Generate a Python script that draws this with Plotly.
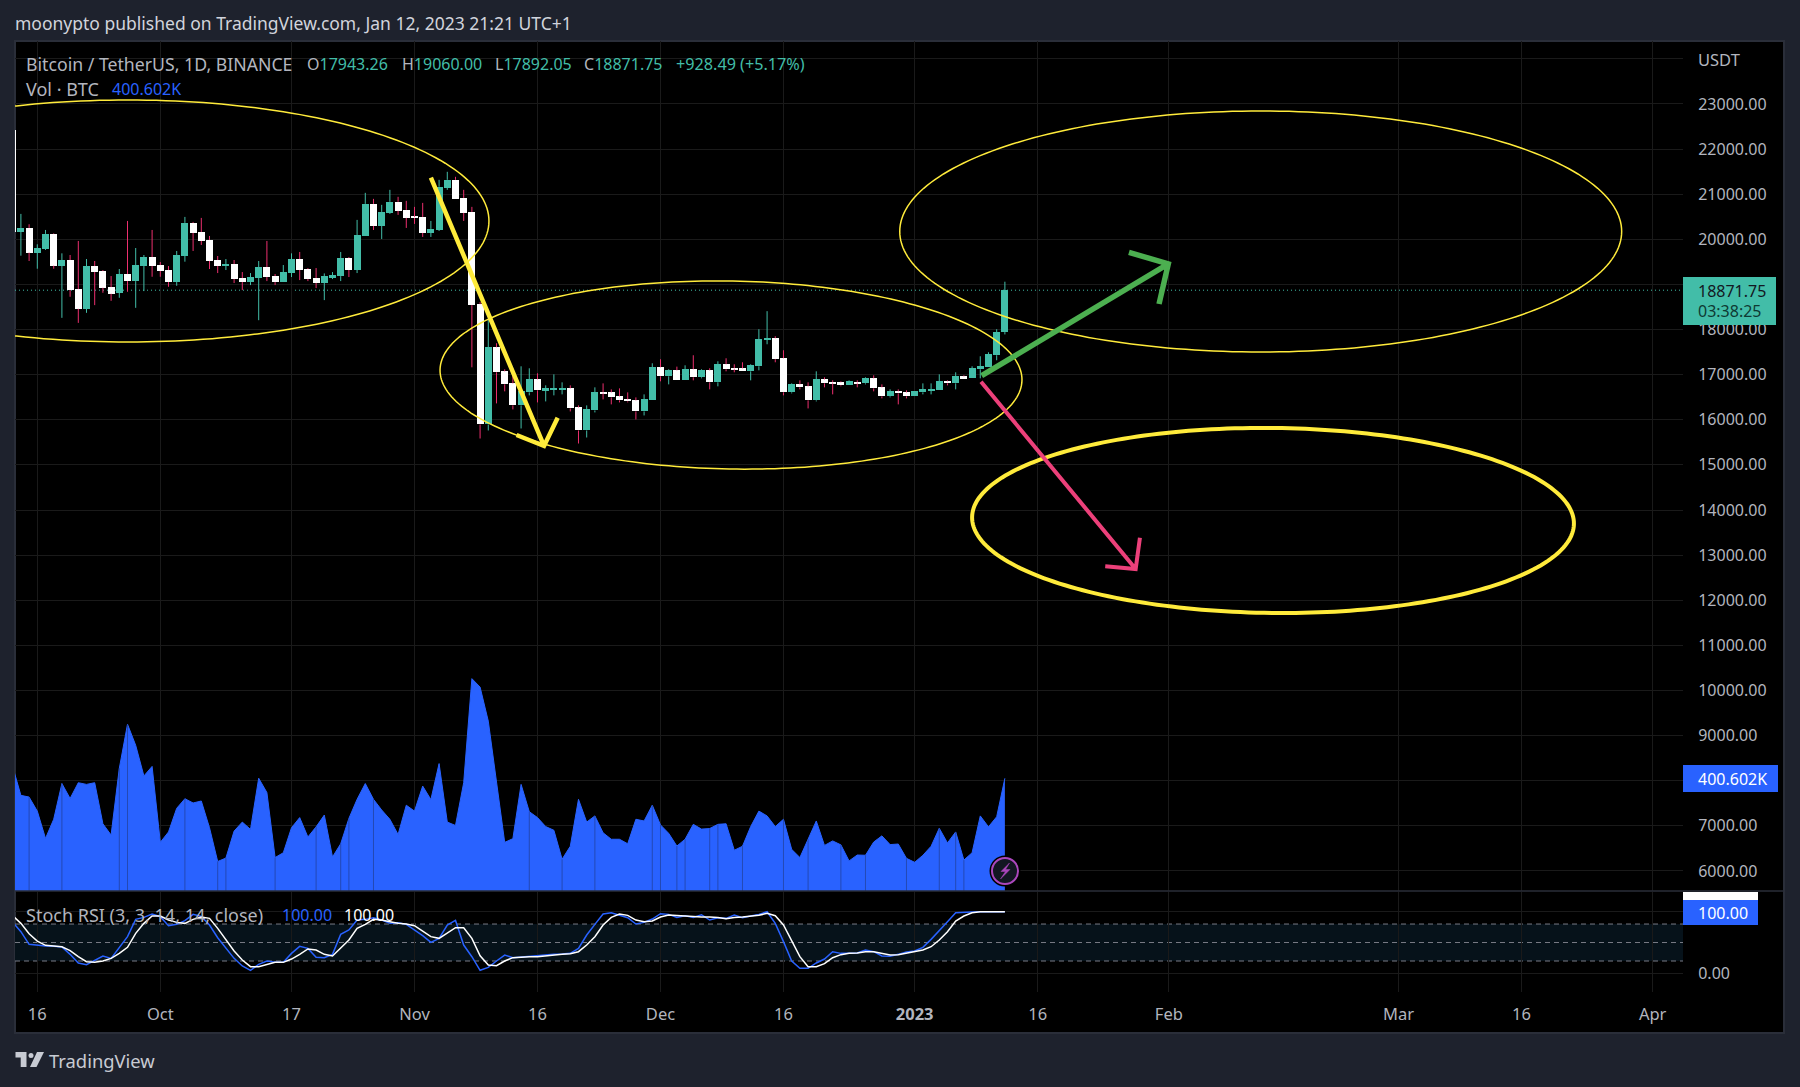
import math
from datetime import datetime, timedelta
import pandas as pd
import plotly.graph_objects as go

# ---------- data ----------
first_date = "2022-09-13"
opens = [22415,20170,20252,19704,19785,20119,19415,19541,18896,18459,19407,19296,18941,18815,19230,19074,19407,19607,19430,19319,19052,19630,20363,20163,19985,19541,19407,19452,19141,19052,19141,19385,19185,19052,19252,19563,19341,19141,19030,19163,19185,19585,19319,20074,20785,20296,20585,20830,20652,20496,20496,20141,20207,21141,21318,20918,20607,18563,15896,17607,17074,16807,16319,16607,16896,16652,16681,16681,16696,16274,15763,16207,16607,16607,16519,16452,16430,16185,16430,17163,16963,17096,16874,17119,16941,17096,16830,17230,17141,17141,17074,17185,17785,17807,17363,16607,16785,16741,16430,16896,16830,16830,16763,16830,16807,16919,16719,16519,16630,16607,16519,16607,16652,16652,16852,16807,16963,16919,17119,17163,17430,17943.26]
highs = [22420,20563,20333,19889,20207,20133,19689,19652,19963,19563,19519,19319,19185,19341,20407,19807,19652,20207,19496,19407,19741,20496,20385,20474,20074,19630,19563,19541,19274,19252,19519,19963,19230,19430,19689,19719,19363,19363,19244,19274,19719,19607,20430,21030,20896,20763,21096,20941,20852,20719,20807,20407,21318,21496,21385,21096,20719,18607,18222,17696,17119,16985,17185,17141,17030,16763,17007,16830,16763,16319,16319,16719,16807,16674,16696,16607,16496,16563,17252,17341,17119,17178,17207,17430,17119,17141,17296,17363,17230,17274,17230,18007,18407,17852,17541,16807,16874,16830,17074,16941,16874,16852,16874,16874,16941,16985,16785,16674,16674,16652,16630,16807,16807,17007,16874,17052,16985,17185,17407,17496,18007,19060.00]
lows = [20170,19637,19519,19348,19763,19348,18259,18726,18148,18370,18541,18815,18637,18704,18837,18481,18852,19170,19170,18948,18970,19504,19741,19874,19341,19252,19319,19030,18874,18985,18207,19074,18985,19052,19163,19096,19074,18919,18652,19119,19074,19163,19252,20074,20207,20007,20563,20541,20252,20341,20052,20052,20185,21096,20896,20407,17163,15585,15763,16363,16630,16230,15807,16541,16385,16407,16541,16563,16185,15474,15607,16163,16452,16341,16385,16385,16007,16096,16430,16852,16785,16874,16874,16874,16919,16674,16741,17074,17052,17074,16874,17096,17674,17274,16541,16585,16674,16252,16407,16719,16563,16741,16763,16719,16785,16630,16474,16496,16341,16474,16519,16563,16563,16652,16763,16674,16919,16919,16919,17163,17319,17892.05]
closes = [20170,20252,19704,19807,20119,19415,19541,18874,18459,19407,19274,18926,18793,19230,19074,19430,19607,19407,19296,19052,19652,20363,20141,19963,19519,19407,19452,19119,19052,19163,19385,19163,19052,19274,19563,19319,19119,19030,19185,19207,19585,19319,20096,20785,20296,20607,20830,20630,20474,20474,20141,20230,21163,21318,20896,20585,18541,15896,17607,17052,16785,16319,16630,16896,16652,16696,16696,16696,16252,15763,16230,16607,16585,16496,16430,16407,16185,16452,17163,16963,17096,16874,17119,16941,17096,16830,17230,17119,17119,17074,17207,17785,17807,17341,16607,16785,16719,16430,16896,16807,16807,16763,16852,16807,16919,16696,16519,16630,16585,16519,16630,16674,16674,16852,16807,16963,16919,17141,17185,17452,17941,18871.75]

volume_k = [442,340,334,284,187,255,382,329,385,379,385,239,199,436,593,518,409,443,173,210,294,328,313,320,225,105,117,213,245,219,401,350,119,136,225,261,192,228,270,121,168,258,326,382,326,288,255,201,305,284,373,325,453,245,233,385,755,725,604,391,173,186,379,282,261,229,216,113,159,326,245,267,207,184,184,168,255,249,305,235,205,160,184,237,220,222,237,239,145,159,229,284,267,229,255,148,119,184,249,162,178,164,107,128,127,174,196,165,167,116,102,127,159,223,171,210,110,136,267,228,264,400.602]
volume_marker_days = ["2022-09-15","2022-09-19","2022-09-26","2022-09-27","2022-10-04","2022-10-08","2022-10-09","2022-10-15","2022-10-20","2022-10-23","2022-10-24","2022-10-27","2022-11-15","2022-11-19","2022-11-23","2022-11-30","2022-12-01","2022-12-03","2022-12-04","2022-12-07","2022-12-08","2022-12-11","2022-12-16","2022-12-19","2022-12-23","2022-12-26","2022-12-31","2023-01-04","2023-01-06","2023-01-07"]

stoch_k = [82.7,67.6,47.0,45.4,44.3,43.8,42.7,30.8,16.8,14.1,21.1,28.1,24.3,42.2,59.5,87.6,90.8,96.2,91.9,77.3,79.5,85.4,95.7,92.4,78.4,57.8,40.5,24.3,11.9,4.9,14.6,20.0,17.8,17.8,32.4,43.8,40.5,25.9,25.4,30.8,63.2,70.3,86.5,87.6,90.3,86.5,81.1,82.2,79.5,70.3,61.1,50.3,56.8,78.4,85.9,45.9,27.0,4.9,9.7,20.0,29.7,25.4,26.5,27.6,29.7,30.3,30.8,31.4,32.4,40.5,62.2,79.5,96.2,98.4,94.6,90.3,80.0,82.7,88.1,96.8,95.7,90.8,93.5,90.8,95.1,86.5,90.3,89.2,94.6,90.3,93.0,95.7,100,81.1,51.4,20.0,8.1,8.1,16.8,23.2,35.1,32.4,32.4,33.0,37.8,35.1,28.1,27.6,30.8,34.6,36.2,42.2,55.1,70.3,83.8,98.4,98.4,99.5,100,100,100,100]
stoch_d = [93.5,81.1,64.3,52.4,45.4,44.3,43.2,36.8,27.0,18.9,17.8,20.0,24.3,32.4,42.2,64.9,81.1,93.0,93.0,86.5,82.7,81.1,87.6,91.4,89.2,73.0,54.1,36.2,21.6,10.8,10.8,14.1,17.8,17.8,23.2,30.8,39.5,37.8,30.8,28.1,40.5,54.1,73.0,79.5,87.6,86.5,83.8,81.1,80.0,77.3,68.6,59.5,56.8,64.9,74.1,74.1,56.8,28.6,13.5,12.4,20.0,25.4,26.5,27.0,27.0,28.6,29.7,30.8,31.9,35.1,45.9,59.5,78.4,90.8,96.2,94.1,86.5,83.8,84.9,91.4,94.6,93.5,93.0,91.9,91.4,91.4,90.8,88.6,90.8,91.4,93.0,94.1,97.3,93.5,78.4,51.4,27.0,10.8,10.8,15.7,25.4,30.3,32.4,33.0,35.1,35.1,32.4,29.7,30.3,32.4,35.1,37.8,43.2,54.1,67.6,84.9,93.0,98.4,100,100,100,100]

time_ticks = ["2022-09-16","2022-10-01","2022-10-17","2022-11-01","2022-11-16","2022-12-01","2022-12-16","2023-01-01","2023-01-16","2023-02-01","2023-03-01","2023-03-16","2023-04-01"]
time_labels = ["16","Oct","17","Nov","16","Dec","16","<b>2023</b>","16","Feb","Mar","16","Apr"]
price_ticks = list(range(6000, 24001, 1000))
# 8000 and 19000 sit fully behind the value tags in the reference, 24000 has the currency label instead
hidden_price_labels = {8000, 19000, 24000}
price_labels = ["" if v in hidden_price_labels else f"{v}.00" for v in price_ticks]
stoch_ticks = [0, 100]
stoch_labels = ["0.00", ""]

# ---------- styling ----------
W, H = 1800, 1087
FONT = "Noto Sans"
BG, PANEL_LINE, GRID = "#1E222D", "#2A2E39", "#1A1A1A"
TEAL, PINK, BLUE, TXT = "#42BDA8", "#EC2F6E", "#2962FF", "#B2B5BE"
YELLOW, GREEN, ROSE = "#FFEB3B", "#4CAF50", "#EC407A"

PLOT_L, PLOT_R, PANEL_R = 15, 1683, 1784
TOP, PANE_SPLIT, PANE_BOTTOM, PANEL_BOTTOM = 41, 891, 992, 1033
PX_PER_DAY = 8.2
PX_PER_PRICE = 0.04512
BASE = datetime(2022, 9, 16)
X_RANGE = [BASE + timedelta(days=-2.72), BASE + timedelta(days=200.7)]
PRICE_RANGE = [5556, 24395]
VOLUME_RANGE = [0, 3022]
STOCH_RANGE = [-30.3, 132]

def px(x): return x / W
def py(y): return 1 - y / H

dates = pd.date_range(first_date, periods=len(closes), freq="D")
up = [c >= o for o, c in zip(opens, closes)]
down = [not u for u in up]

def pick(values, flags):
    return [v for v, f in zip(values, flags) if f]

def wick_xy(flags):
    # two segments per candle, so the wick never shows through the body
    xs, ys = [], []
    for d, o, hi, lo, c, f in zip(dates, opens, highs, lows, closes, flags):
        if f:
            xs += [d, d, None, d, d, None]
            ys += [max(o, c), hi, None, lo, min(o, c), None]
    return xs, ys

fig = go.Figure()

# volume area and its darker marker lines
fig.add_trace(go.Scatter(x=dates, y=volume_k, yaxis="y2", mode="lines", fill="tozeroy",
                         line=dict(color=BLUE, width=1), fillcolor=BLUE, hoverinfo="skip"))
vol_by_day = {d.strftime("%Y-%m-%d"): v for d, v in zip(dates, volume_k)}
vx, vy = [], []
for d in volume_marker_days:
    vx += [d, d, None]
    vy += [0, vol_by_day[d], None]
fig.add_trace(go.Scatter(x=vx, y=vy, yaxis="y2", mode="lines",
                         line=dict(color="#2449B5", width=1), hoverinfo="skip"))

# candles: wicks and bodies
lo_body = [min(o, c) for o, c in zip(opens, closes)]
hgt = [max(abs(c - o), 20) for o, c in zip(opens, closes)]
for flags, wick_colour, body_colour in ((up, TEAL, TEAL), (down, PINK, "#FFFFFF")):
    wx, wy = wick_xy(flags)
    fig.add_trace(go.Scatter(x=wx, y=wy, mode="lines", line=dict(color=wick_colour, width=1), hoverinfo="skip"))
    fig.add_trace(go.Bar(x=pick(dates, flags), base=pick(lo_body, flags), y=pick(hgt, flags),
                         width=7 / PX_PER_DAY * 86400000,
                         marker=dict(color=body_colour, line=dict(width=0)), hoverinfo="skip"))

# stochastic RSI
fig.add_trace(go.Scatter(x=dates, y=stoch_k, xaxis="x2", yaxis="y3", mode="lines",
                         line=dict(color=BLUE, width=1.5), hoverinfo="skip"))
fig.add_trace(go.Scatter(x=dates, y=stoch_d, xaxis="x2", yaxis="y3", mode="lines",
                         line=dict(color="#FFFFFF", width=1.5), hoverinfo="skip"))

# ---------- drawings, anchored in time and price ----------
def anchor(day, price):
    t = BASE + timedelta(days=day)
    return f"{t.strftime('%Y-%m-%d_%H:%M:%S')},{price:.1f}"

def ellipse_path(day, price, a_days, b_price, tilt):
    a, b = a_days * PX_PER_DAY, b_price * PX_PER_PRICE
    pts = []
    for i in range(241):
        t = 2 * math.pi * i / 240
        ex, ey = a * math.cos(t), b * math.sin(t)
        sx = ex * math.cos(tilt) - ey * math.sin(tilt)
        sy = ex * math.sin(tilt) + ey * math.cos(tilt)
        pts.append(anchor(day + sx / PX_PER_DAY, price - sy / PX_PER_PRICE))
    return "M " + " L ".join(pts) + " Z"

def arrow_path(start, tip, barb1, barb2):
    return (f"M {anchor(*start)} L {anchor(*tip)} "
            f"M {anchor(*barb1)} L {anchor(*tip)} L {anchor(*barb2)}")

shapes = []
# panel background
shapes.append(dict(type="rect", xref="paper", yref="paper", x0=px(PLOT_L), x1=px(PANEL_R), y0=py(PANEL_BOTTOM), y1=py(TOP),
                   fillcolor="#000000", line=dict(color=PANEL_LINE, width=2), layer="below"))
# last price line
shapes.append(dict(type="line", xref="x domain", yref="y", x0=0, x1=1, y0=closes[-1], y1=closes[-1],
                   line=dict(color=TEAL, width=1, dash="1px,3px"), layer="below"))
# stochastic band
shapes.append(dict(type="rect", xref="x2 domain", yref="y3", x0=0, x1=1, y0=20, y1=80,
                   fillcolor="#06121A", line=dict(width=0), layer="below"))
for level in (20, 50, 80):
    shapes.append(dict(type="line", xref="x2 domain", yref="y3", x0=0, x1=1, y0=level, y1=level,
                       line=dict(color="#787B86", width=1, dash="5px,4px"), layer="below"))
# ellipses
for geom, lw in (((11.06, 20406, 44.02, 2682, 0.0), 1.5),
                 ((84.6, 16992, 35.49, 2083, 0.018), 1.5),
                 ((149.2, 20173, 44.02, 2671, 0.0), 1.5),
                 ((150.7, 13768, 36.7, 2050, 0.011), 4)):
    shapes.append(dict(type="path", xref="x", yref="y", path=ellipse_path(*geom),
                       line=dict(color=YELLOW, width=lw), layer="above"))
# arrows
for pts, colour, lw in (((((48.0, 21365), (61.8, 15419), (58.45, 15663), (63.46, 16046))), YELLOW, 4.5),
                        (((115.17, 16977), (137.93, 19453), (133.13, 19712), (136.8, 18566)), GREEN, 5.5),
                        (((115.09, 16844), (133.95, 12693), (130.24, 12753), (134.47, 13387)), ROSE, 4)):
    shapes.append(dict(type="path", xref="x", yref="y", path=arrow_path(*pts),
                       line=dict(color=colour, width=lw), layer="above"))
# pane separator
shapes.append(dict(type="line", xref="paper", yref="paper", x0=px(PLOT_L), x1=px(PANEL_R), y0=py(PANE_SPLIT), y1=py(PANE_SPLIT),
                   line=dict(color=PANEL_LINE, width=1.5), layer="above"))
# axis value tags
def rect(x0, y0, x1, y1, colour):
    return dict(type="rect", xref="paper", yref="paper", x0=px(x0), x1=px(x1), y0=py(y1), y1=py(y0),
                fillcolor=colour, line=dict(width=0), layer="above")
shapes += [rect(1683, 277, 1776, 325, TEAL), rect(1683, 765, 1778, 792, BLUE),
           rect(1683, 892, 1758, 900, "#FFFFFF"), rect(1683, 900, 1758, 925, BLUE)]

# lightning badge
def paper_path(points):
    return "M " + " L ".join(f"{px(x):.5f},{py(y):.5f}" for x, y in points) + " Z"
shapes.append(dict(type="circle", xref="paper", yref="paper", x0=px(989.5), x1=px(1020.5), y0=py(886.5), y1=py(855.5),
                   fillcolor="#000000", line=dict(width=0), layer="above"))
shapes.append(dict(type="circle", xref="paper", yref="paper", x0=px(992), x1=px(1018), y0=py(884), y1=py(858),
                   fillcolor="#131722", line=dict(color="#AB47BC", width=2), layer="above"))
shapes.append(dict(type="path", xref="paper", yref="paper",
                   path=paper_path([(1009.5, 863), (1001, 871.5), (1005.5, 871.5), (1000.5, 879), (1010, 869.5), (1005.5, 869.5)]),
                   fillcolor="#AB47BC", line=dict(color="#AB47BC", width=0.5), layer="above"))
# TradingView mark
LOGO = "#C8CBD3"
shapes.append(dict(type="path", xref="paper", yref="paper",
                   path=paper_path([(15.5, 1052), (26.5, 1052), (26.5, 1067), (20.7, 1067), (20.7, 1057.5), (15.5, 1057.5)]),
                   fillcolor=LOGO, line=dict(width=0), layer="above"))
shapes.append(dict(type="circle", xref="paper", yref="paper", x0=px(28.5), x1=px(33.5), y0=py(1058), y1=py(1053),
                   fillcolor=LOGO, line=dict(width=0), layer="above"))
shapes.append(dict(type="path", xref="paper", yref="paper",
                   path=paper_path([(37, 1052), (44, 1052), (36.5, 1067), (30, 1067)]),
                   fillcolor=LOGO, line=dict(width=0), layer="above"))

# ---------- texts ----------
def label(x, y, text, colour=TXT, size=16):
    return dict(xref="paper", yref="paper", x=px(x - 2), y=py(y), text=text, showarrow=False,
                xanchor="left", yanchor="middle", align="left", font=dict(family=FONT, size=size, color=colour))

annotations = [
    label(15, 23, "moonypto published on TradingView.com, Jan 12, 2023 21:21 UTC+1", "#D1D4DC", 17.5),
    label(26, 64, "Bitcoin / TetherUS, 1D, BINANCE", TXT, 17.7),
    label(307, 64, f"O<span style='color:{TEAL}'>{opens[-1]:.2f}</span>"),
    label(402, 64, f"H<span style='color:{TEAL}'>{highs[-1]:.2f}</span>"),
    label(495, 64, f"L<span style='color:{TEAL}'>{lows[-1]:.2f}</span>"),
    label(584, 64, f"C<span style='color:{TEAL}'>{closes[-1]:.2f}</span>"),
    label(676, 64, "+928.49 (+5.17%)", TEAL, 16.2),
    label(26, 89, "Vol · BTC", TXT, 18),
    label(112, 89, f"{volume_k[-1]:.3f}K", BLUE),
    label(26, 915, "Stoch RSI (3, 3, 14, 14, close)", TXT, 18),
    label(282, 915, f"{stoch_k[-1]:.2f}", BLUE),
    label(344, 915, f"{stoch_d[-1]:.2f}", "#FFFFFF"),
    label(1698, 60, "USDT", TXT, 16.5),
    label(1698, 291, f"{closes[-1]:.2f}", "#131722"),
    label(1698, 311, "03:38:25", "#0E3A33"),
    label(1698, 778.5, f"{volume_k[-1]:.3f}K", "#FFFFFF"),
    label(1698, 912.5, f"{stoch_k[-1]:.2f}", "#FFFFFF"),
    label(49, 1060.5, "TradingView", "#C8CBD3", 18.4),
]

x_common = dict(type="date", range=X_RANGE, domain=[px(PLOT_L), px(PLOT_R)], tickmode="array", tickvals=time_ticks,
                showgrid=True, gridcolor=GRID, gridwidth=1, zeroline=False, showline=False)
y_common = dict(side="right", showgrid=True, gridcolor=GRID, gridwidth=1, zeroline=False, showline=False,
                tickmode="array", ticks="outside", ticklen=11, tickcolor="rgba(0,0,0,0)",
                tickfont=dict(family=FONT, size=16, color=TXT))

fig.update_layout(
    width=W, height=H, autosize=False, margin=dict(l=0, r=0, t=0, b=0),
    paper_bgcolor=BG, plot_bgcolor="rgba(0,0,0,0)", showlegend=False, hovermode=False, barmode="overlay", bargap=0,
    xaxis=dict(**x_common, anchor="y", showticklabels=False, ticks=""),
    xaxis2=dict(**x_common, anchor="y3", ticktext=time_labels, ticks="outside", ticklen=7, tickcolor="rgba(0,0,0,0)",
                tickfont=dict(family=FONT, size=16.5, color=TXT), tickangle=0),
    yaxis=dict(**y_common, domain=[py(PANE_SPLIT), py(TOP)], range=PRICE_RANGE, tickvals=price_ticks, ticktext=price_labels, anchor="x"),
    yaxis2=dict(overlaying="y", side="left", range=VOLUME_RANGE, showgrid=False, showticklabels=False, zeroline=False, anchor="x"),
    yaxis3=dict(**y_common, domain=[py(PANE_BOTTOM), py(PANE_SPLIT + 1)], range=STOCH_RANGE, tickvals=stoch_ticks, ticktext=stoch_labels, anchor="x2"),
    shapes=shapes, annotations=annotations,
)

fig.write_html("out.html", config=dict(displayModeBar=False),
               post_script="document.body.style.margin='0';document.body.style.overflow='hidden';")
